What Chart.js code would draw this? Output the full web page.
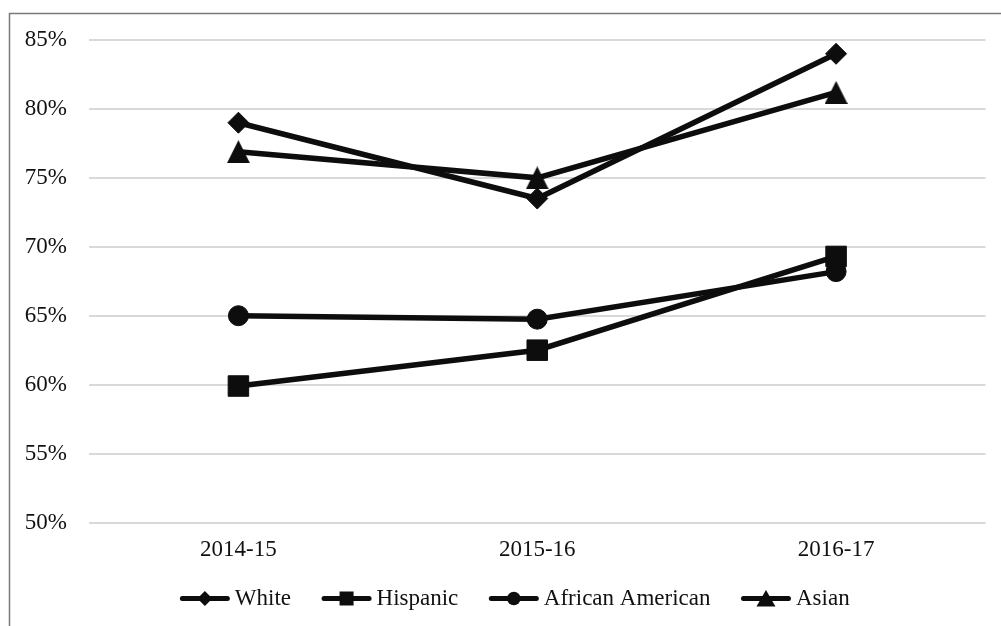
<!DOCTYPE html>
<html>
<head>
<meta charset="utf-8">
<script src="https://cdn.jsdelivr.net/npm/chart.js@4/dist/chart.umd.min.js"></script>
<style>
  html, body { margin: 0; padding: 0; background: #ffffff; }
  #wrap { width: 1001px; height: 626px; position: relative; }
</style>
</head>
<body>
<div id="wrap"><canvas id="chart" width="1001" height="626"></canvas></div>
<script>
// Categories (school years)
const years = ['2014-15', '2015-16', '2016-17'];

// Series values, in percent
const seriesNames = ['White', 'Hispanic', 'African American', 'Asian'];
const white = [79.0, 73.5, 84.0];
const hispanic = [59.9, 62.5, 69.3];
const africanAmerican = [65.0, 64.75, 68.2];
const asian = [76.9, 75.0, 81.2];

// Value-axis tick labels
const yTickValues = [50, 55, 60, 65, 70, 75, 80, 85];

// ---- styling ----
const INK = '#0d0d0d';
const TEXT = '#111111';
const GRID = '#d9d9d9';
const FONT = { family: '"Liberation Serif", "Times New Roman", serif', size: 23 };

// Marker triangle as a small canvas so it sits centred on its value
function triangleImage(w, h) {
  const c = document.createElement('canvas');
  c.width = w; c.height = h;
  const g = c.getContext('2d');
  g.fillStyle = INK;
  g.beginPath();
  g.moveTo(w / 2, 0);
  g.lineTo(w, h);
  g.lineTo(0, h);
  g.closePath();
  g.fill();
  return c;
}

const markerKinds = ['diamond', 'square', 'circle', 'triangle'];
const pointStyles = ['rectRot', 'rect', 'circle', triangleImage(23, 23)];
const pointRadii = [10.5, 14.5, 10, 12];
const seriesValues = [white, hispanic, africanAmerican, asian];

function drawMark(g, kind, x, y) {
  g.save();
  g.fillStyle = INK;
  g.beginPath();
  if (kind === 'diamond') {
    const s = 7.5;
    g.moveTo(x, y - s); g.lineTo(x + s, y); g.lineTo(x, y + s); g.lineTo(x - s, y);
  } else if (kind === 'square') {
    g.rect(x - 7, y - 7, 14, 14);
  } else if (kind === 'circle') {
    g.arc(x, y, 6.8, 0, Math.PI * 2);
  } else {
    g.moveTo(x, y - 8.5); g.lineTo(x + 9.5, y + 8); g.lineTo(x - 9.5, y + 8);
  }
  g.closePath();
  g.fill();
  g.restore();
}

// Legend row is centred on the whole chart box, which runs past the right edge
const legendShift = {
  id: 'legendShift',
  afterLayout(chart) {
    const lg = chart.legend;
    if (!lg) return;
    lg.left += 20;
    lg.right += 20;
  }
};

// Legend keys: a short thick line with the series marker on it
const legendKeys = {
  id: 'legendKeys',
  afterDraw(chart) {
    const lg = chart.legend;
    if (!lg || !lg.legendHitBoxes) return;
    const g = chart.ctx;
    lg.legendHitBoxes.forEach((hb, i) => {
      const y = hb.top + hb.height / 2;
      const x0 = hb.left;
      const x1 = hb.left + 49;
      g.save();
      g.strokeStyle = INK;
      g.lineWidth = 5;
      g.lineCap = 'round';
      g.beginPath();
      g.moveTo(x0 + 2, y);
      g.lineTo(x1 - 2, y);
      g.stroke();
      g.restore();
      drawMark(g, markerKinds[i], (x0 + x1) / 2, y);
    });
  }
};

// Outer frame line of the chart
const frame = {
  id: 'frame',
  afterDraw(chart) {
    const g = chart.ctx;
    g.save();
    g.strokeStyle = '#7a7a7a';
    g.lineWidth = 1.5;
    g.beginPath();
    g.moveTo(9.5, chart.height + 5);
    g.lineTo(9.5, 13.5);
    g.lineTo(chart.width + 5, 13.5);
    g.stroke();
    g.restore();
  }
};

const datasets = seriesNames.map((name, i) => ({
  label: name,
  data: seriesValues[i],
  borderColor: INK,
  backgroundColor: INK,
  borderWidth: 5.5,
  pointStyle: pointStyles[i],
  pointRadius: pointRadii[i],
  pointBorderWidth: 1,
  pointBorderColor: INK,
  pointBackgroundColor: INK,
  tension: 0,
  fill: false,
  clip: false
}));

new Chart(document.getElementById('chart'), {
  type: 'line',
  data: { labels: years, datasets },
  plugins: [legendShift, legendKeys, frame],
  options: {
    responsive: false,
    devicePixelRatio: 1,
    animation: false,
    layout: { padding: { left: 0, right: 11, top: 40, bottom: 6 } },
    plugins: {
      tooltip: { enabled: false },
      legend: {
        position: 'bottom',
        align: 'center',
        labels: {
          font: FONT,
          color: TEXT,
          boxWidth: 43,
          boxHeight: 4,
          padding: 31,
          generateLabels(chart) {
            return chart.data.datasets.map((ds, i) => ({
              text: ds.label,
              fillStyle: 'rgba(0,0,0,0)',
              strokeStyle: 'rgba(0,0,0,0)',
              lineWidth: 0,
              hidden: false,
              datasetIndex: i,
              fontColor: TEXT
            }));
          }
        }
      }
    },
    scales: {
      x: {
        type: 'category',
        offset: true,
        grid: { display: false, drawTicks: false },
        border: { display: false },
        ticks: { font: FONT, color: TEXT, padding: 14, maxRotation: 0 },
        afterFit(scale) { scale.height = 33.5; }
      },
      y: {
        min: yTickValues[0],
        max: yTickValues[yTickValues.length - 1],
        grid: { color: GRID, lineWidth: 2, drawTicks: false },
        border: { display: false },
        ticks: {
          font: FONT,
          color: TEXT,
          padding: 22,
          callback: (v) => v + '%'
        },
        afterBuildTicks(scale) {
          scale.ticks = yTickValues.map(v => ({ value: v }));
        },
        afterFit(scale) { scale.width = 89; }
      }
    }
  }
});
</script>
</body>
</html>
